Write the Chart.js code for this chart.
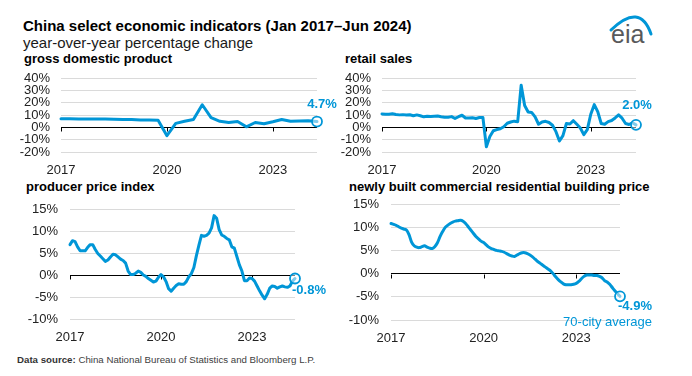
<!DOCTYPE html>
<html>
<head>
<meta charset="utf-8">
<script src="https://cdn.jsdelivr.net/npm/chart.js@4.4.0/dist/chart.umd.min.js"></script>
<style>
body { margin: 0; background: #fff; }
#page { position: relative; width: 692px; height: 376px; overflow: hidden; font-family: "Liberation Sans", Arial, sans-serif; }
.t { position: absolute; white-space: nowrap; color: #000; }
.b { font-weight: bold; }
canvas { position: absolute; }
</style>
</head>
<body>
<div id="page">
  <div class="t b" style="left:23px;top:17px;font-size:15px;line-height:18px">China select economic indicators (Jan 2017–Jun 2024)</div>
  <div class="t" style="left:23px;top:34px;font-size:15px;line-height:18px;color:#1a1a1a">year-over-year percentage change</div>
  <div class="t b" style="left:24px;top:51px;font-size:13px;line-height:16px">gross domestic product</div>
  <div class="t b" style="left:345px;top:51px;font-size:13px;line-height:16px">retail sales</div>
  <div class="t b" style="left:26px;top:179px;font-size:13px;line-height:16px">producer price index</div>
  <div class="t b" style="left:349px;top:179px;font-size:13px;line-height:16px">newly built commercial residential building price</div>
  <div class="t" style="left:17px;top:354px;font-size:9.7px;line-height:12px;color:#404040"><b style="color:#333">Data source:</b> China National Bureau of Statistics and Bloomberg L.P.</div>
  <svg style="position:absolute;left:600px;top:6px" width="60" height="44">
    <path d="M11 24 Q 40 -4 51 28" stroke="#0096d7" stroke-width="3" fill="none" stroke-linecap="round"/>
    <text x="11" y="37" font-size="25" fill="#58595b" font-family="Liberation Sans, Arial, sans-serif">eia</text>
  </svg>
  <canvas id="gdp" width="340" height="110" style="left:0;top:70px"></canvas>
  <canvas id="retail" width="352" height="110" style="left:340px;top:70px"></canvas>
  <canvas id="ppi" width="340" height="150" style="left:0;top:195px"></canvas>
  <canvas id="housing" width="352" height="150" style="left:340px;top:195px"></canvas>
</div>
<script>
const blue = '#0096d7';
const family = '"Liberation Sans", Arial, sans-serif';

// x tick labels and y ticks
const yearTicks = ['2017', '2020', '2023'];
const topYTicks = [-20, -10, 0, 10, 20, 30, 40];
const bottomYTicks = [-10, -5, 0, 5, 10, 15];

function monthLabels(y0, m0, y1, m1, firstMonth) {
  const out = [];
  for (let y = y0; y <= y1; y++) {
    for (let m = firstMonth; m <= 12; m++) {
      if (y === y0 && m < m0) continue;
      if (y === y1 && m > m1) continue;
      out.push(y + '-' + String(m).padStart(2, '0'));
    }
  }
  return out;
}

// quarterly GDP, Q1 2017 - Q2 2024
const gdpQuarters = [];
for (let y = 2017; y <= 2024; y++) for (let q = 1; q <= 4; q++) if (y < 2024 || q <= 2) gdpQuarters.push(y + ' Q' + q);
const gdpValues = [
  6.9, 6.9, 6.8, 6.8,
  6.8, 6.7, 6.5, 6.4,
  6.3, 6.0, 6.0, 5.8,
  -6.8, 3.2, 4.9, 6.4,
  18.3, 7.9, 4.9, 4.0,
  4.8, 0.4, 3.9, 2.9,
  4.5, 6.3, 4.9, 5.2,
  5.3, 4.7
];

// retail sales, Mar-Dec of each year (Jan-Feb reported combined)
const retailMonths = monthLabels(2017, 3, 2024, 6, 3);
const retailValues = [
  10.9, 10.7, 10.7, 11.0, 10.4, 10.1, 10.3, 10.0, 10.2, 9.4,
  10.1, 9.4, 8.5, 9.0, 8.8, 9.0, 9.2, 8.6, 8.1, 8.2,
  8.7, 7.2, 8.6, 9.8, 7.6, 7.5, 7.8, 7.2, 8.0, 8.0,
  -15.8, -7.5, -2.8, -1.8, -1.1, 0.5, 3.3, 4.3, 5.0, 4.6,
  34.2, 17.7, 12.4, 12.1, 8.5, 2.5, 4.4, 4.9, 3.9, 1.7,
  -3.5, -11.1, -6.7, 3.1, 2.7, 5.4, 2.5, -0.5, -5.9, -1.8,
  10.6, 18.4, 12.7, 3.1, 2.5, 4.6, 5.5, 7.6, 10.1, 7.4,
  3.1, 2.3, 3.7, 2.0
];

// monthly, Jan 2017 - Jun 2024
const months = monthLabels(2017, 1, 2024, 6, 1);
const ppiValues = [
  6.9, 7.8, 7.6, 6.4, 5.5, 5.5, 5.5, 6.3, 6.9, 6.9, 5.8, 4.9,
  4.3, 3.7, 3.1, 3.4, 4.1, 4.7, 4.6, 4.1, 3.6, 3.3, 2.7, 0.9,
  0.1, 0.1, 0.4, 0.9, 0.6, 0.0, -0.3, -0.8, -1.2, -1.6, -1.4, -0.5,
  0.1, -0.4, -1.5, -3.1, -3.7, -3.0, -2.4, -2.0, -2.1, -2.1, -1.5, -0.4,
  0.3, 1.7, 4.4, 6.8, 9.0, 8.8, 9.0, 9.5, 10.7, 13.5, 12.9, 10.3,
  9.1, 8.8, 8.3, 8.0, 6.4, 6.1, 4.2, 2.3, 0.9, -1.3, -1.3, -0.7,
  -0.8, -1.4, -2.5, -3.6, -4.6, -5.4, -4.4, -3.0, -2.5, -2.6, -3.0, -2.7,
  -2.5, -2.7, -2.8, -2.5, -1.4, -0.8
];
const housingValues = [
  10.8, 10.6, 10.4, 10.1, 9.8, 9.6, 9.4, 8.4, 6.8, 6.0, 5.7, 5.6,
  5.8, 6.0, 5.7, 5.5, 5.4, 5.8, 6.6, 7.9, 9.0, 9.9, 10.4, 10.8,
  11.1, 11.3, 11.4, 11.5, 11.3, 10.8, 10.1, 9.4, 8.7, 8.0, 7.5, 7.0,
  6.7, 6.2, 5.7, 5.4, 5.2, 5.0, 4.9, 4.8, 4.6, 4.3, 4.0, 3.8,
  3.7, 4.0, 4.3, 4.5, 4.5, 4.3, 4.0, 3.6, 3.1, 2.6, 2.2, 1.8,
  1.4, 1.0, 0.6, 0.0, -0.7, -1.3, -1.8, -2.2, -2.4, -2.4, -2.4, -2.3,
  -2.1, -1.7, -1.1, -0.6, -0.3, -0.3, -0.3, -0.4, -0.4, -0.6, -0.9, -1.5,
  -1.8, -2.3, -3.0, -3.7, -4.3, -4.9
];

const endLabelPlugin = {
  id: 'endLabel',
  afterDatasetsDraw(chart, args, opts) {
    const meta = chart.getDatasetMeta(0);
    const pt = meta.data[meta.data.length - 1];
    const ctx = chart.ctx;
    ctx.save();
    ctx.fillStyle = blue;
    ctx.textBaseline = 'middle';
    opts.lines.forEach(l => {
      ctx.font = (l.bold ? 'bold ' : '') + '13px ' + family;
      ctx.textAlign = l.align;
      ctx.fillText(l.text, pt.x + l.dx, pt.y + l.dy);
    });
    ctx.restore();
  }
};

const zeroTickPlugin = {
  id: 'zeroTicks',
  beforeDatasetsDraw(chart) {
    const xs = chart.scales.x;
    const y0 = Math.round(chart.scales.y.getPixelForValue(0)) + 0.5;
    const ctx = chart.ctx;
    ctx.save();
    ctx.strokeStyle = '#000';
    ctx.lineWidth = 1;
    xs.ticks.forEach((t, i) => {
      const px = Math.round(xs.getPixelForTick(i)) + 0.5;
      ctx.beginPath();
      ctx.moveTo(px, y0);
      ctx.lineTo(px, y0 + 4);
      ctx.stroke();
    });
    ctx.restore();
  }
};

function panel(id, labels, values, yTicks, box, lines) {
  const last = values.length - 1;
  return new Chart(document.getElementById(id), {
    type: 'line',
    data: {
      labels: labels,
      datasets: [{
        data: values,
        borderColor: blue,
        borderWidth: 3,
        borderJoinStyle: 'round',
        borderCapStyle: 'round',
        tension: box.tension || 0,
        pointRadius: c => c.dataIndex === last ? 5 : 0,
        pointBorderWidth: 1.8,
        pointBorderColor: blue,
        pointBackgroundColor: 'rgba(255,255,255,0.5)',
        clip: false
      }]
    },
    options: {
      responsive: false,
      animation: false,
      devicePixelRatio: 1,
      layout: { padding: { left: 0, right: box.padRight, top: box.padTop, bottom: 0 } },
      plugins: {
        legend: { display: false },
        tooltip: { enabled: false },
        endLabel: { lines: lines }
      },
      scales: {
        x: {
          type: 'category',
          grid: { display: false },
          border: { display: false },
          ticks: {
            autoSkip: false, maxRotation: 0, padding: box.xPad, color: '#222',
            font: { size: 13, family: family },
            callback: function (v) { return this.getLabelForValue(v).slice(0, 4); }
          },
          afterBuildTicks: s => {
            s.ticks = s.ticks.filter(t => {
              const yr = labels[t.value].slice(0, 4);
              return yearTicks.includes(yr) && (t.value === 0 || labels[t.value - 1].slice(0, 4) !== yr);
            });
          },
          afterFit: s => { s.height = box.xHeight; }
        },
        y: {
          min: yTicks[0],
          max: yTicks[yTicks.length - 1],
          grid: { color: c => c.tick.value === 0 ? '#000' : '#dadada', lineWidth: 1, drawTicks: false },
          border: { display: false },
          ticks: {
            autoSkip: false,
            stepSize: yTicks[1] - yTicks[0], padding: box.yPad, color: '#222',
            font: { size: 13, family: family },
            callback: v => v + '%'
          },
          afterFit: s => { s.width = box.yWidth; s.paddingTop = 0; s.paddingBottom = 0; }
        }
      }
    },
    plugins: [zeroTickPlugin, endLabelPlugin]
  });
}

const fmt = v => v.toFixed(1) + '%';

panel('gdp', gdpQuarters, gdpValues, topYTicks,
  { yWidth: 61, padRight: 23, padTop: 8, xHeight: 28, yPad: 11, xPad: 3 },
  [{ text: fmt(gdpValues[gdpValues.length - 1]), bold: true, align: 'center', dx: 5, dy: -17 }]);

panel('retail', retailMonths, retailValues, topYTicks,
  { yWidth: 42, padRight: 56, padTop: 8, xHeight: 28, yPad: 11, xPad: 3 },
  [{ text: fmt(retailValues[retailValues.length - 1]), bold: true, align: 'center', dx: 1, dy: -19 }]);

panel('ppi', months, ppiValues, bottomYTicks,
  { yWidth: 70, padRight: 45, padTop: 14, xHeight: 26, yPad: 12, xPad: 3 },
  [{ text: fmt(ppiValues[ppiValues.length - 1]), bold: true, align: 'left', dx: -3, dy: 12 }]);

panel('housing', months, housingValues, bottomYTicks,
  { yWidth: 51, padRight: 72, padTop: 9, xHeight: 25, yPad: 12, xPad: 3, tension: 0.3 },
  [{ text: fmt(housingValues[housingValues.length - 1]), bold: true, align: 'right', dx: 32, dy: 10 },
   { text: '70-city average', bold: false, align: 'right', dx: 32, dy: 26 }]);
</script>
</body>
</html>
